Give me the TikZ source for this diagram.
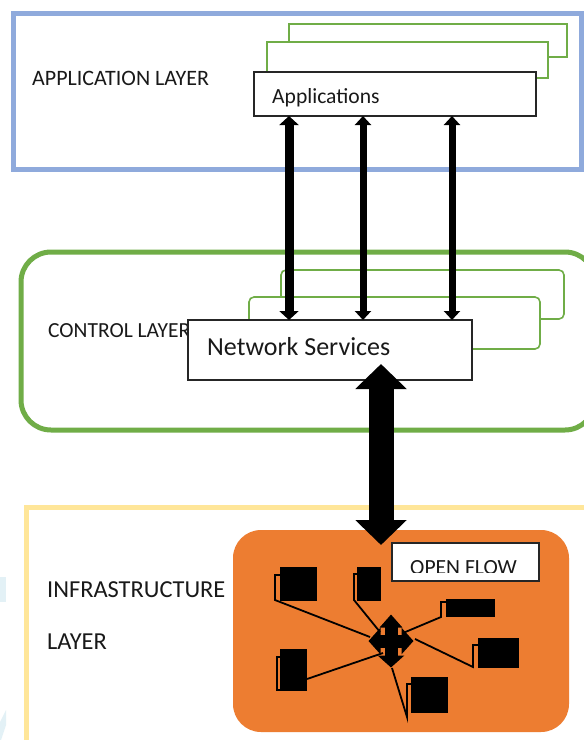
\documentclass[tikz,border=0pt]{standalone}
\usepackage{fontspec}
\setmainfont{Carlito}
\usetikzlibrary{arrows.meta}

\definecolor{appblue}{HTML}{8FAADC}
\definecolor{ctrlgreen}{HTML}{70AD47}
\definecolor{infrayellow}{HTML}{FFE699}
\definecolor{flowfill}{HTML}{ED7D31}
\definecolor{paleblue}{HTML}{E3F1F6}

\tikzset{
    layerbox/.style={draw,anchor=north west,inner sep=0pt,outer sep=0pt,line width=5pt},
    stackbox/.style={draw=ctrlgreen,fill=white,anchor=north west,inner sep=0pt,outer sep=0pt,line width=1.6pt},
    textbox/.style={draw=black!85,fill=white,anchor=north west,inner sep=0pt,outer sep=0pt,line width=1.2pt},
    device/.style={fill=black,anchor=north west,inner sep=0pt,outer sep=0pt},
    label/.style={anchor=base west,inner sep=0pt,text=black!90},
    link/.style={draw=black,line width=1.8pt},
    bigarrow/.style={draw=black,line width=25pt,{Triangle[length=25pt,width=50pt]}-{Triangle[length=25pt,width=50pt]}}
}

\begin{document}
\begin{tikzpicture}[x=1pt,y=-1pt]
    \useasboundingbox (0,0) rectangle (584,740);
    \fill[white] (0,0) rectangle (584,740);

    % application layer
    \node[layerbox,draw=appblue,minimum width=568pt,minimum height=156pt] (appframe) at (13,13) {};
    \node[stackbox,minimum width=278pt,minimum height=33pt] (appback) at (289,24) {};
    \node[stackbox,minimum width=281pt,minimum height=36pt] (appmid) at (267,42) {};
    \node[textbox,minimum width=282pt,minimum height=44pt] (apps) at (254,72) {};
    \node[label,font=\fontsize{21.6}{24}\selectfont] (appslabel) at (272,103) {Applications};
    \node[label,font=\fontsize{22}{24}\selectfont] (applabel) at (32,85) {APPLICATION LAYER};

    % control layer
    \node[layerbox,draw=ctrlgreen,rounded corners=30pt,minimum width=574pt,minimum height=178pt] (ctrlframe) at (21,252) {};
    \node[stackbox,rounded corners=5pt,minimum width=283pt,minimum height=49pt] (ctrlback) at (281,270) {};
    \node[stackbox,rounded corners=5pt,minimum width=291pt,minimum height=52pt] (ctrlmid) at (249,297) {};
    \node[label,font=\fontsize{21.5}{24}\selectfont] (ctrllabel) at (48,337) {CONTROL LAYER};
    \node[textbox,minimum width=284pt,minimum height=60pt] (services) at (188,320) {};
    \node[label,font=\fontsize{26}{28}\selectfont] (serviceslabel) at (207,355) {Network Services};

    % infrastructure layer
    \fill[paleblue] (0,577) rectangle (6,602);
    \fill[paleblue] (0,722) -- (6,710) -- (6,725) -- (1,740) -- (0,740) -- cycle;
    \node[layerbox,draw=infrayellow,minimum width=600pt,minimum height=260pt] (infraframe) at (26,507) {};
    \node[label,font=\fontsize{24.4}{26}\selectfont] (infralabel) at (47,597) {INFRASTRUCTURE};
    \node[label,font=\fontsize{24.4}{26}\selectfont] (layerlabel) at (47,649) {LAYER};
    \node[fill=flowfill,anchor=north west,inner sep=0pt,outer sep=0pt,rounded corners=28pt,minimum width=336pt,minimum height=202pt] (flowarea) at (233,530) {};

    % open flow box, text is cut off by the lower edge
    \node[textbox,minimum width=147pt,minimum height=38pt] (flowbox) at (392,543) {};
    \begin{scope}
        \clip (392,543) rectangle (539,572);
        \node[label,font=\fontsize{21.6}{24}\selectfont] (flowlabel) at (410,574) {OPEN FLOW};
    \end{scope}

    % arrows between the layers
    \coordinate (armA) at (289,0);
    \coordinate (armB) at (363,0);
    \coordinate (armC) at (452,0);
    \draw[line width=9pt,{Triangle[length=9pt,width=19pt]}-{Triangle[length=9pt,width=19pt]}] (apps.south -| armA)--(services.north -| armA);
    \draw[line width=7pt,{Triangle[length=9pt,width=16pt]}-{Triangle[length=9pt,width=16pt]}] (apps.south -| armB)--(services.north -| armB);
    \draw[line width=7pt,{Triangle[length=9pt,width=16pt]}-{Triangle[length=9pt,width=16pt]}] (apps.south -| armC)--(services.north -| armC);

    \coordinate (bigtop) at (381,364);
    \coordinate (bigbottom) at (381,545);
    \draw[bigarrow] (bigtop)--(bigbottom);

    % switches
    \node[inner sep=0pt,outer sep=0pt,minimum width=45pt,minimum height=53pt] (hub) at (391,641) {};
    \node[device,minimum width=37pt,minimum height=34pt] (devA) at (280,567) {};
    \node[device,minimum width=24pt,minimum height=34pt] (devB) at (357,567) {};
    \node[device,minimum width=49pt,minimum height=18pt] (devC) at (446,599) {};
    \node[device,minimum width=41pt,minimum height=30pt] (devD) at (478,638) {};
    \node[device,minimum width=37pt,minimum height=36pt] (devE) at (411,677) {};
    \node[device,minimum width=27pt,minimum height=41pt] (devF) at (280,649) {};

    \coordinate (kneeA) at (275,600);
    \coordinate (kneeB) at (354,600);
    \coordinate (kneeC) at (441,617);
    \coordinate (kneeD) at (473,667);
    \coordinate (kneeE) at (407,717);
    \coordinate (kneeF) at (277,690);

    \draw[link] ([yshift=-8pt]devA.north west) -| (kneeA) -- ([shift={(-21,-4)}]hub.center);
    \draw[link] ([yshift=-7pt]devB.north west) -| (kneeB) -- ([shift={(-11,-9)}]hub.center);
    \draw[link] ([yshift=-3pt]devC.north west) -| (kneeC) -- ([shift={(12,-8)}]hub.center);
    \draw[link] ([yshift=-7pt]devD.north west) -| (kneeD) -- ([shift={(24,-2)}]hub.center);
    \draw[link] ([yshift=-7pt]devE.north west) -| (kneeE) -- ([shift={(1,27)}]hub.center);
    \draw[link] ([yshift=-8pt]devF.north west) -| (kneeF) -- (devF.south east);
    \draw[link] ([yshift=11pt]devF.south east) -- ([shift={(-8,12)}]hub.center);

    \draw[line width=13pt,{Triangle[length=13pt,width=22pt]}-{Triangle[length=12pt,width=26pt]}] (hub.north)--(hub.south);
    \draw[line width=13pt,{Triangle[length=12pt,width=26pt]}-{Triangle[length=12pt,width=26pt]}] (hub.west)--(hub.east);
\end{tikzpicture}
\end{document}
